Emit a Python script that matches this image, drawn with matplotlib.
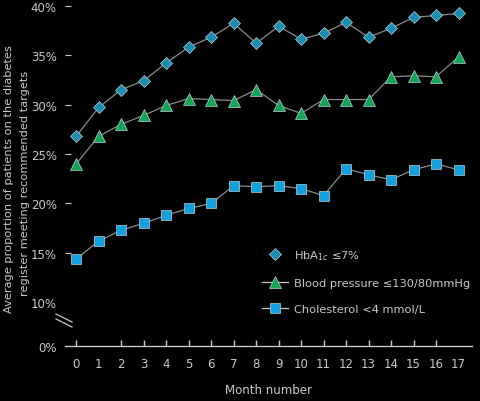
import matplotlib
matplotlib.use("Agg")
import matplotlib.pyplot as plt
from matplotlib.lines import Line2D

months = list(range(18))
hba1c = [26.8, 29.7, 31.5, 32.4, 34.2, 35.8, 36.8, 38.2, 36.2, 37.9, 36.6, 37.2, 38.3, 36.8, 37.7, 38.8, 39.0, 39.2]
bp = [24.0, 26.8, 28.0, 28.9, 29.9, 30.6, 30.5, 30.4, 31.5, 29.9, 29.1, 30.5, 30.5, 30.5, 32.8, 32.9, 32.8, 34.8]
chol = [14.4, 16.2, 17.3, 18.0, 18.8, 19.5, 20.0, 21.8, 21.7, 21.8, 21.5, 20.8, 23.5, 22.9, 22.4, 23.4, 24.0, 23.4]

ytick_vals = [15, 20, 25, 30, 35, 40]
ytick_labels = ["15%", "20%", "25%", "30%", "35%", "40%"]
legend_labels = [r"HbA$_{1c}$ ≤7%", "Blood pressure ≤130/80mmHg", "Cholesterol <4 mmol/L"]

BG = "black"
TXT = "#c8c8c8"
LINE = "#8a8a8a"
C_H = "#1a8db0"
C_B = "#13a556"
C_C = "#12a0de"
EDGE = "#b8d0dc"

plt.rcParams['font.family'] = ['DejaVu Sans']
fig = plt.figure(figsize=(4.8, 4.02), dpi=100, facecolor=BG)
ax = fig.add_axes([65/480, (402-347)/402, 407/480, 347/402], facecolor=BG)

YB = 5.6
ax.set_xlim(-0.5, 17.6)
ax.set_ylim(YB, 40.66)

kw = dict(color=LINE, lw=0.9, markeredgecolor=EDGE, markeredgewidth=0.5, clip_on=False)
ax.plot(months, chol, marker="s", ms=7.2, markerfacecolor=C_C, **kw)
ax.plot(months, bp, marker="^", ms=8.5, markerfacecolor=C_B, **kw)
ax.plot(months, hba1c, marker="D", ms=6.6, markerfacecolor=C_H, **kw)

for s in ["top", "right", "left"]:
    ax.spines[s].set_visible(False)
ax.spines["bottom"].set_color(TXT)
ax.spines["bottom"].set_linewidth(1.0)

ax.set_xticks(months)
ax.set_xticklabels([str(m) for m in months])
ax.tick_params(axis="x", direction="in", length=4, width=1, color=TXT, labelcolor=TXT, labelsize=8.5, pad=8)
xt = ax.xaxis.get_major_ticks()
for i in (1, 17):
    xt[i].tick1line.set_visible(False)

ax.set_yticks([YB, 10] + ytick_vals)
ax.set_yticklabels(["0%", "10%"] + ytick_labels)
ax.tick_params(axis="y", direction="in", length=4, width=0.8, color=TXT, labelcolor=TXT, labelsize=8.5, pad=6)
yt = ax.yaxis.get_major_ticks()
for i in (0, 1):
    yt[i].tick1line.set_visible(False)

# axis break marks
fig.add_artist(Line2D([56/480, 72/480], [1-315/402, 1-323/402], color=TXT, lw=0.9))
fig.add_artist(Line2D([56/480, 72/480], [1-320/402, 1-328/402], color=TXT, lw=0.9))

ax.set_xlabel("Month number", color=TXT, fontsize=8.5, labelpad=9)
fig.text(9/480, 1-179/402, "Average proportion of patients on the diabetes", rotation=90,
         color=TXT, fontsize=8.2, ha="center", va="center")
fig.text(25/480, 1-183/402, "register meeting recommended targets", rotation=90,
         color=TXT, fontsize=8.2, ha="center", va="center")

handles = [
    Line2D([], [], color=LINE, lw=0, marker="D", ms=6.6, markerfacecolor=C_H, markeredgecolor=EDGE, markeredgewidth=0.5),
    Line2D([], [], color=TXT, lw=0.9, marker="^", ms=8.5, markerfacecolor=C_B, markeredgecolor=EDGE, markeredgewidth=0.5),
    Line2D([], [], color=TXT, lw=0.9, marker="s", ms=7.2, markerfacecolor=C_C, markeredgecolor=EDGE, markeredgewidth=0.5),
]
leg = ax.legend(handles, legend_labels, loc="upper left", bbox_to_anchor=(262/480, 1-249/402),
                bbox_transform=fig.transFigure, frameon=False, fontsize=8.2, labelcolor=TXT,
                handlelength=2.3, handletextpad=0.5, labelspacing=1.4, borderpad=0, borderaxespad=0)

fig.savefig("out.png", dpi=100, facecolor=BG)
